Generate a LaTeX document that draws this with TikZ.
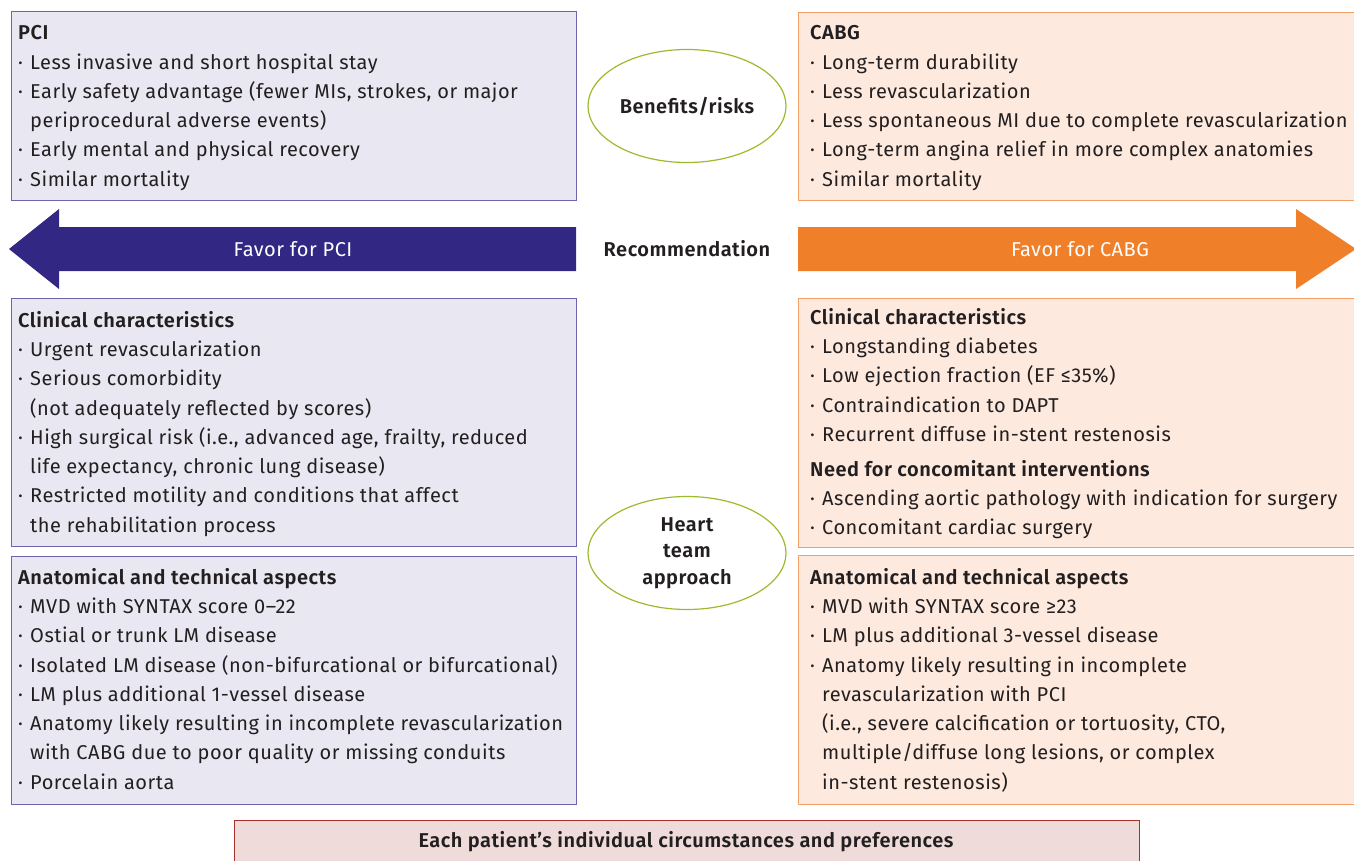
\documentclass[tikz,border=0pt]{standalone}
\usepackage{fontspec}
\setmainfont{Fira Sans}[LetterSpace=2.6,BoldFont={Fira Sans SemiBold}]
\usetikzlibrary{shapes.geometric}
\definecolor{pcifill}{HTML}{E9E8F2}
\definecolor{pcidraw}{HTML}{6E64AE}
\definecolor{pciarrow}{HTML}{322883}
\definecolor{cabgfill}{HTML}{FDE9DD}
\definecolor{cabgdraw}{HTML}{F2A066}
\definecolor{cabgarrow}{HTML}{F07F2A}
\definecolor{ellcol}{HTML}{9CBB2C}
\definecolor{botfill}{HTML}{EFDCDA}
\definecolor{botdraw}{HTML}{A8302B}
\definecolor{txtcol}{HTML}{231F20}
\newcommand\mybul{\makebox[12pt][l]{·}}
\newcommand\myind{\hspace*{12pt}}
\newcommand\myfirst{\rule{0pt}{13.5pt}}
\begin{document}
\begin{tikzpicture}[x=1pt,y=-1pt,
  pcibox/.style={draw=pcidraw,fill=pcifill,line width=1.2pt,anchor=north west,inner sep=0pt},
  cabgbox/.style={draw=cabgdraw,fill=cabgfill,line width=1.2pt,anchor=north west,inner sep=0pt},
  txtblk/.style={anchor=north west,align=left,inner sep=0pt,text=txtcol,font=\fontsize{20}{29.25}\selectfont},
  ell/.style={ellipse,draw=ellcol,line width=1.2pt,minimum width=198pt,minimum height=113pt,inner sep=0pt,text=txtcol,font=\fontsize{20}{26.5}\selectfont\bfseries,align=center},
  arrowlbl/.style={text=white,font=\fontsize{20}{22}\selectfont},
]
\useasboundingbox (0,0) rectangle (1354,861);
% boxes
\node[pcibox,minimum width=565pt,minimum height=189pt] (pcitop) at (11,11) {};
\node[pcibox,minimum width=565pt,minimum height=248pt] (pcimid) at (11,298) {};
\node[pcibox,minimum width=565pt,minimum height=248pt] (pcibot) at (11,556) {};
\node[cabgbox,minimum width=570pt,minimum height=188pt] (cabgtop) at (798,12) {};
\node[cabgbox,minimum width=570pt,minimum height=249pt] (cabgmid) at (798,298) {};
\node[cabgbox,minimum width=570pt,minimum height=249pt] (cabgbot) at (798,555) {};
\node[draw=botdraw,fill=botfill,line width=1.2pt,anchor=north west,inner sep=0pt,minimum width=905pt,minimum height=60pt] (patbox) at (234,820) {};
\node[text=txtcol,font=\fontsize{20}{22}\selectfont\bfseries] (pattxt) at (686,842) {Each patient's individual circumstances and preferences};
% arrows
\fill[pciarrow] (576,227) -- (59,227) -- (59,209) -- (9,249) -- (59,289) -- (59,271) -- (576,271) -- cycle;
\fill[cabgarrow] (798,227) -- (1296,227) -- (1296,209) -- (1356,249) -- (1296,289) -- (1296,271) -- (798,271) -- cycle;
\node[arrowlbl] (favpci) at (293,249) {Favor for PCI};
\node[arrowlbl] (favcabg) at (1080,249) {Favor for CABG};
\node[text=txtcol,font=\fontsize{20}{22}\selectfont\bfseries] (rec) at (687,249) {Recommendation};
% ellipses
\node[ell] (ben) at (687,106) {Benefits/risks};
\node[ell] (heart) at (687,553) {Heart\\team\\approach};
% texts
\node[txtblk] (tpcitop) at (18,25.5) {\myfirst\textbf{PCI}\\
\mybul Less invasive and short hospital stay\\
\mybul Early safety advantage (fewer MIs, strokes, or major\\
\myind periprocedural adverse events)\\
\mybul Early mental and physical recovery\\
\mybul Similar mortality};
\node[txtblk] (tpcimid) at (18,311) {\myfirst\textbf{Clinical characteristics}\\
\mybul Urgent revascularization\\
\mybul Serious comorbidity\\
\myind (not adequately reflected by scores)\\
\mybul High surgical risk (i.e., advanced age, frailty, reduced\\
\myind life expectancy, chronic lung disease)\\
\mybul Restricted motility and conditions that affect\\
\myind the rehabilitation process};
\node[txtblk] (tpcibot) at (18,568) {\myfirst\textbf{Anatomical and technical aspects}\\
\mybul MVD with SYNTAX score 0–22\\
\mybul Ostial or trunk LM disease\\
\mybul Isolated LM disease (non-bifurcational or bifurcational)\\
\mybul LM plus additional 1-vessel disease\\
\mybul Anatomy likely resulting in incomplete revascularization\\
\myind with CABG due to poor quality or missing conduits\\
\mybul Porcelain aorta};
\node[txtblk] (tcabgtop) at (810,25.5) {\myfirst\textbf{CABG}\\
\mybul Long-term durability\\
\mybul Less revascularization\\
\mybul Less spontaneous MI due to complete revascularization\\
\mybul Long-term angina relief in more complex anatomies\\
\mybul Similar mortality};
\node[txtblk] (tcabgmid) at (810,308) {\myfirst\textbf{Clinical characteristics}\\
\mybul Longstanding diabetes\\
\mybul Low ejection fraction (EF ≤35\%)\\
\mybul Contraindication to DAPT\\
\mybul Recurrent diffuse in-stent restenosis\\[5.5pt]
\textbf{Need for concomitant interventions}\\
\mybul Ascending aortic pathology with indication for surgery\\
\mybul Concomitant cardiac surgery};
\node[txtblk] (tcabgbot) at (810,568) {\myfirst\textbf{Anatomical and technical aspects}\\
\mybul MVD with SYNTAX score ≥23\\
\mybul LM plus additional 3-vessel disease\\
\mybul Anatomy likely resulting in incomplete\\
\myind revascularization with PCI\\
\myind (i.e., severe calcification or tortuosity, CTO,\\
\myind multiple/diffuse long lesions, or complex\\
\myind in-stent restenosis)};
\end{tikzpicture}
\end{document}
